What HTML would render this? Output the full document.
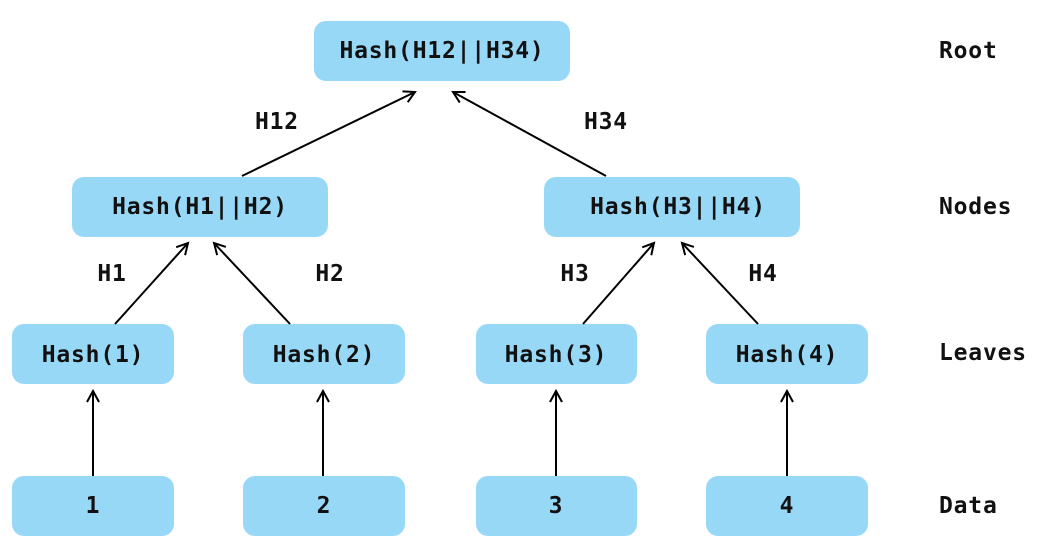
<!DOCTYPE html>
<html><head><meta charset="utf-8"><style>
html,body{margin:0;padding:0;background:#fff;width:1041px;height:551px;overflow:hidden}
svg text{font-family:"DejaVu Sans Mono","Liberation Mono",monospace;font-weight:bold;font-size:23px;fill:#111;letter-spacing:0.8px}
</style></head><body>
<svg width="1041" height="551" viewBox="0 0 1041 551">
<defs><marker id="a" markerWidth="14" markerHeight="14" refX="12" refY="7" orient="auto" markerUnits="userSpaceOnUse"><path d="M1,1 L12,7 L1,13" fill="none" stroke="#000" stroke-width="2"/></marker></defs>
<g fill="#98d8f7">
<rect x="314" y="21" width="256" height="60" rx="12"/>
<rect x="72" y="177" width="256" height="60" rx="12"/>
<rect x="544" y="177" width="256" height="60" rx="12"/>
<rect x="12" y="324" width="162" height="60" rx="12"/>
<rect x="243" y="324" width="162" height="60" rx="12"/>
<rect x="476" y="324" width="161" height="60" rx="12"/>
<rect x="706" y="324" width="162" height="60" rx="12"/>
<rect x="12" y="476" width="162" height="60" rx="12"/>
<rect x="243" y="476" width="162" height="60" rx="12"/>
<rect x="476" y="476" width="161" height="60" rx="12"/>
<rect x="706" y="476" width="162" height="60" rx="12"/>
</g>
<g stroke="#000" stroke-width="2" marker-end="url(#a)">
<line x1="242" y1="176" x2="415" y2="92"/>
<line x1="606" y1="176" x2="453" y2="92"/>
<line x1="115" y1="324" x2="188" y2="243"/>
<line x1="290" y1="324" x2="214" y2="243"/>
<line x1="583" y1="324" x2="654" y2="243"/>
<line x1="758" y1="324" x2="682" y2="243"/>
<line x1="93" y1="476" x2="93" y2="391"/>
<line x1="323" y1="476" x2="323" y2="391"/>
<line x1="556" y1="476" x2="556" y2="391"/>
<line x1="787" y1="476" x2="787" y2="391"/>
</g>
<g text-anchor="middle" dominant-baseline="central">
<text x="442" y="51">Hash(H12||H34)</text>
<text x="200" y="207">Hash(H1||H2)</text>
<text x="678" y="207">Hash(H3||H4)</text>
<text x="93" y="355">Hash(1)</text>
<text x="324" y="355">Hash(2)</text>
<text x="556" y="355">Hash(3)</text>
<text x="787" y="355">Hash(4)</text>
<text x="93" y="506">1</text>
<text x="324" y="506">2</text>
<text x="556" y="506">3</text>
<text x="787" y="506">4</text>
<text x="277" y="122">H12</text>
<text x="606" y="122">H34</text>
<text x="112" y="274">H1</text>
<text x="330" y="274">H2</text>
<text x="575" y="274">H3</text>
<text x="763" y="274">H4</text>
</g>
<g dominant-baseline="central">
<text x="939" y="51">Root</text>
<text x="939" y="207">Nodes</text>
<text x="939" y="353">Leaves</text>
<text x="939" y="506">Data</text>
</g>
</svg>
</body></html>
